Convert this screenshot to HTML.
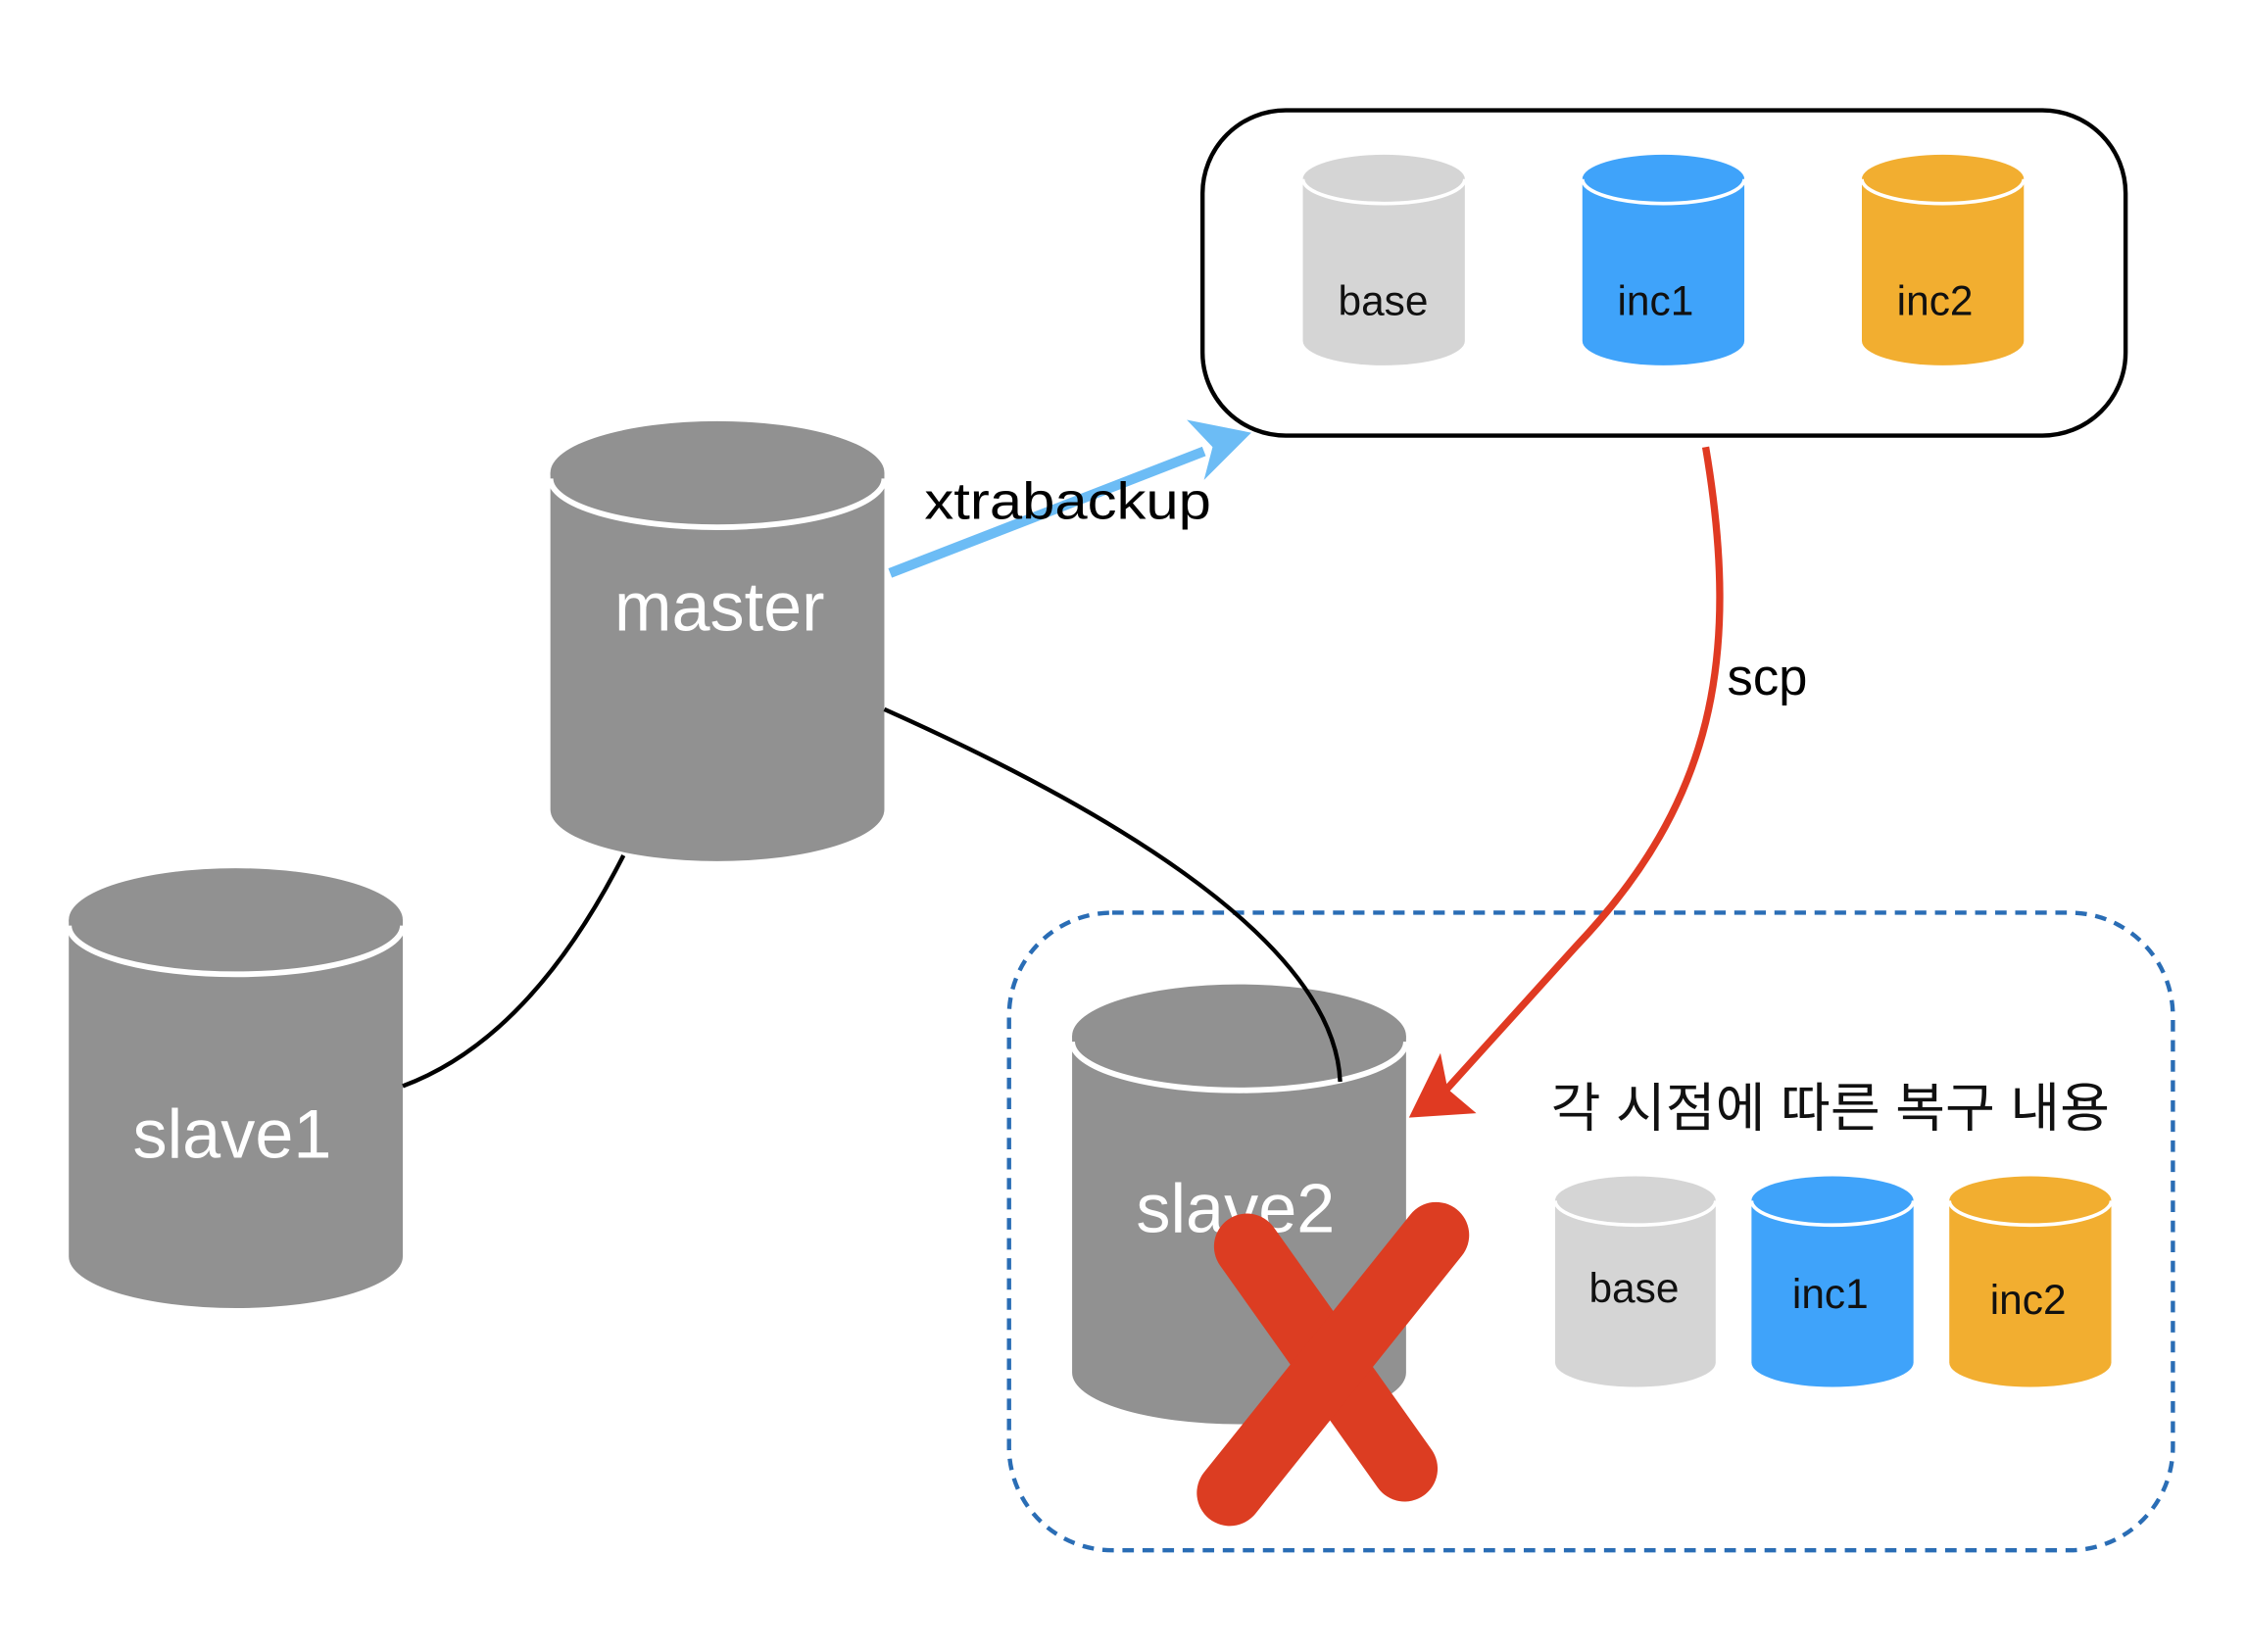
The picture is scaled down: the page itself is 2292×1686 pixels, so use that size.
<!DOCTYPE html>
<html><head><meta charset="utf-8"><style>
html,body{margin:0;padding:0;background:#fff;width:2292px;height:1686px;overflow:hidden}
svg{display:block}
text{font-family:"Liberation Sans","Noto Sans CJK KR",sans-serif}
</style></head><body>
<svg width="2292" height="1686" viewBox="0 0 1567 1153" preserveAspectRatio="none" xmlns="http://www.w3.org/2000/svg">
<rect x="839" y="77" width="644" height="227" rx="58" fill="#fff" stroke="#000" stroke-width="3"/>
<g>
<path d="M909 125 V238 A56.5 17 0 0 0 1022 238 V125 Z" fill="#d5d5d5"/><ellipse cx="965.5" cy="125" rx="56.5" ry="17" fill="#d5d5d5"/><path d="M909 125 A56.5 17 0 0 0 1022 125" fill="none" stroke="#fff" stroke-width="2.5"/>
<text x="965" y="220" font-size="29" text-anchor="middle" fill="#111">base</text>
<path d="M1104 125 V238 A56.5 17 0 0 0 1217 238 V125 Z" fill="#3fa3fa"/><ellipse cx="1160.5" cy="125" rx="56.5" ry="17" fill="#3fa3fa"/><path d="M1104 125 A56.5 17 0 0 0 1217 125" fill="none" stroke="#fff" stroke-width="2.5"/>
<text x="1155" y="220" font-size="29" text-anchor="middle" fill="#111">inc1</text>
<path d="M1299 125 V238 A56.5 17 0 0 0 1412 238 V125 Z" fill="#f2ae30"/><ellipse cx="1355.5" cy="125" rx="56.5" ry="17" fill="#f2ae30"/><path d="M1299 125 A56.5 17 0 0 0 1412 125" fill="none" stroke="#fff" stroke-width="2.5"/>
<text x="1350" y="220" font-size="29" text-anchor="middle" fill="#111">inc2</text>
</g>
<rect x="704" y="637" width="812" height="445" rx="72" fill="none" stroke="#2a6db5" stroke-width="3" stroke-dasharray="8 6"/>
<path d="M384 330 V565 A116.5 36 0 0 0 617 565 V330 Z" fill="#919191"/><ellipse cx="500.5" cy="330" rx="116.5" ry="36" fill="#919191"/><path d="M384 334 A116.5 34 0 0 0 617 334" fill="none" stroke="#fff" stroke-width="4"/>
<text x="502" y="440" font-size="48" text-anchor="middle" fill="#fff">master</text>
<path d="M48 642 V877 A116.5 36 0 0 0 281 877 V642 Z" fill="#919191"/><ellipse cx="164.5" cy="642" rx="116.5" ry="36" fill="#919191"/><path d="M48 646 A116.5 34 0 0 0 281 646" fill="none" stroke="#fff" stroke-width="4"/>
<text x="162" y="808" font-size="48" text-anchor="middle" fill="#fff">slave1</text>
<path d="M748 723 V958 A116.5 36 0 0 0 981 958 V723 Z" fill="#919191"/><ellipse cx="864.5" cy="723" rx="116.5" ry="36" fill="#919191"/><path d="M748 727 A116.5 34 0 0 0 981 727" fill="none" stroke="#fff" stroke-width="4"/>
<text x="862" y="860" font-size="48" text-anchor="middle" fill="#fff">slave2</text>
<path d="M435 597 Q370 725 281 758" fill="none" stroke="#000" stroke-width="3"/>
<path d="M617 495 Q930 635 935 755" fill="none" stroke="#000" stroke-width="3"/>
<path d="M621 400 L840 315" stroke="#6cbcf5" stroke-width="7" fill="none"/>
<path d="M873 302 L828 293 L846 312 L840 335 Z" fill="#6cbcf5"/>
<text x="645" y="362" font-size="36" fill="#000" textLength="200" lengthAdjust="spacingAndGlyphs">xtrabackup</text>
<path d="M1190 312 C1215 460 1195 560 1100 660 Q1050 715 1005 765" fill="none" stroke="#e03a22" stroke-width="5"/>
<path d="M983 780 L1005 735 L1010 760 L1030 777 Z" fill="#e03a22"/>
<text x="1205" y="485" font-size="36" fill="#000">scp</text>
<path d="M870 870 L980 1025" stroke="#dc3d22" stroke-width="46" stroke-linecap="round"/>
<path d="M1002 862 L858 1042" stroke="#dc3d22" stroke-width="46" stroke-linecap="round"/>
<text x="1082" y="786" font-size="37" fill="#111" textLength="390" lengthAdjust="spacingAndGlyphs">각 시점에 따른 복구 내용</text>
<path d="M1085 838 V951 A56 17 0 0 0 1197 951 V838 Z" fill="#d5d5d5"/><ellipse cx="1141" cy="838" rx="56" ry="17" fill="#d5d5d5"/><path d="M1085 838 A56 17 0 0 0 1197 838" fill="none" stroke="#fff" stroke-width="2.5"/>
<text x="1140" y="909" font-size="29" text-anchor="middle" fill="#111">base</text>
<path d="M1222 838 V951 A56.5 17 0 0 0 1335 951 V838 Z" fill="#3fa3fa"/><ellipse cx="1278.5" cy="838" rx="56.5" ry="17" fill="#3fa3fa"/><path d="M1222 838 A56.5 17 0 0 0 1335 838" fill="none" stroke="#fff" stroke-width="2.5"/>
<text x="1277" y="913" font-size="29" text-anchor="middle" fill="#111">inc1</text>
<path d="M1360 838 V951 A56.5 17 0 0 0 1473 951 V838 Z" fill="#f2ae30"/><ellipse cx="1416.5" cy="838" rx="56.5" ry="17" fill="#f2ae30"/><path d="M1360 838 A56.5 17 0 0 0 1473 838" fill="none" stroke="#fff" stroke-width="2.5"/>
<text x="1415" y="917" font-size="29" text-anchor="middle" fill="#111">inc2</text>
</svg>
</body></html>
